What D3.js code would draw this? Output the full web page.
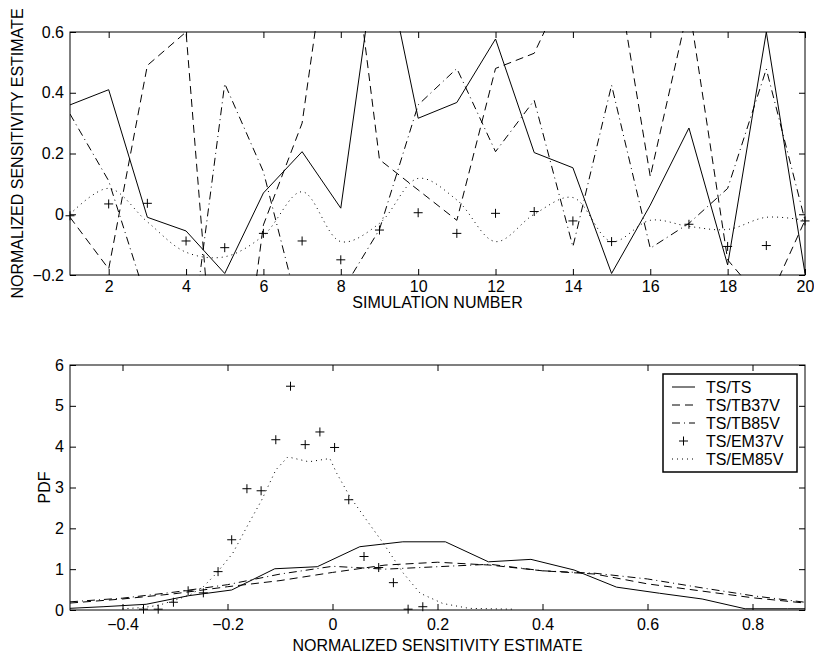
<!DOCTYPE html>
<html lang="en">
<head>
  <meta charset="UTF-8">
  <title>Normalized sensitivity estimates</title>
  <style>
    body {
      margin: 0;
      background: #fff;
    }

    svg {
      display: block;
      font-family: "Liberation Sans", Arial, Helvetica, sans-serif;
    }

    .tick text {
      font-size: 16px;
      fill: #000;
    }

    .tick line {
      stroke: #000;
    }

    .axis-title, .legend text {
      font-size: 16px;
      fill: #000;
    }

    .series {
      fill: none;
      stroke: #000;
      stroke-width: 1;
    }
  </style>
</head>
<body>
  <svg id="chart" width="814" height="658"></svg>

  <script src="https://d3js.org/d3.v7.min.js"></script>
  <script>
    // top panel: estimate per simulation
    const simNumber = [1, 2, 3, 4, 5, 6, 7, 8, 9, 10, 11, 12, 13, 14, 15, 16, 17, 18, 19, 20];
    const simTsTs    = [0.36, 0.41, -0.01, -0.055, -0.195, 0.07, 0.206, 0.02, 0.93, 0.316, 0.368, 0.577, 0.203, 0.153, -0.195, 0.03, 0.284, -0.167, 0.6, -0.195];
    const simTsTb37v = [-0.01, -0.18, 0.49, 0.6, -1.0, -0.035, 0.30, 1.2, 0.18, 0.08, -0.02, 0.48, 0.53, 0.8, 0.9, 0.124, 0.69, -0.15, -0.30, -0.02];
    const simTsTb85v = [0.33, 0.11, -0.29, -0.55, 0.43, 0.14, -0.36, -0.26, -0.05, 0.36, 0.48, 0.206, 0.375, -0.107, 0.425, -0.112, -0.03, 0.085, 0.478, -0.02];
    const simTsEm37v = [-0.005, 0.034, 0.036, -0.088, -0.11, -0.063, -0.088, -0.15, -0.052, 0.005, -0.063, 0.003, 0.009, -0.022, -0.09, -0.25, -0.033, -0.106, -0.103, -0.022];
    const simTsEm85v = [0.0, 0.085, -0.025, -0.125, -0.14, -0.07, 0.074, -0.09, -0.03, 0.118, 0.047, -0.09, 0.0, 0.055, -0.09, -0.02, -0.04, -0.05, -0.01, -0.02];

    // bottom panel: PDFs
    const pdfXTs = [-0.518, -0.437, -0.355, -0.274, -0.192, -0.110, -0.029, 0.052, 0.134, 0.215, 0.297, 0.378, 0.460, 0.541, 0.623, 0.704, 0.786, 0.867, 0.949];
    const pdfTs  = [0.03, 0.08, 0.14, 0.35, 0.49, 1.01, 1.06, 1.55, 1.67, 1.67, 1.18, 1.24, 0.98, 0.56, 0.41, 0.27, 0.03, 0.03, 0.03];

    const pdfXTb = [-0.5, -0.4, -0.3, -0.2, -0.1, 0.0, 0.1, 0.2, 0.3, 0.4, 0.5, 0.6, 0.7, 0.8, 0.9];
    const pdfTb37v = [0.17, 0.27, 0.40, 0.57, 0.72, 0.92, 1.10, 1.17, 1.10, 0.96, 0.88, 0.64, 0.47, 0.30, 0.17];
    const pdfTb85v = [0.20, 0.29, 0.44, 0.62, 0.88, 1.07, 1.00, 1.06, 1.12, 0.96, 0.90, 0.76, 0.55, 0.35, 0.19];

    const pdfXEm37v = [-0.360, -0.332, -0.303, -0.275, -0.246, -0.218, -0.192, -0.163, -0.136, -0.108, -0.080, -0.052, -0.024, 0.004, 0.031, 0.060, 0.088, 0.116, 0.144, 0.172];
    const pdfEm37v  = [0.02, 0.02, 0.19, 0.47, 0.42, 0.94, 1.72, 2.97, 2.92, 4.17, 5.48, 4.05, 4.36, 3.98, 2.70, 1.31, 1.04, 0.67, 0.02, 0.08];

    const pdfXEm85v = [-0.40, -0.36, -0.33, -0.30, -0.27, -0.246, -0.221, -0.19, -0.163, -0.135, -0.108, -0.085, -0.045, -0.005, 0.008, 0.033, 0.065, 0.097, 0.135, 0.167, 0.21, 0.26, 0.345];
    const pdfEm85v  = [0.03, 0.06, 0.12, 0.24, 0.38, 0.57, 0.90, 1.39, 2.04, 2.69, 3.43, 3.75, 3.63, 3.71, 3.35, 2.78, 2.20, 1.63, 0.90, 0.41, 0.16, 0.04, 0.02];

    // ticks
    const topXTicks = [2, 4, 6, 8, 10, 12, 14, 16, 18, 20];
    const topYTicks = [-0.2, 0, 0.2, 0.4, 0.6];
    const botXTicks = [-0.4, -0.2, 0, 0.2, 0.4, 0.6, 0.8];
    const botYTicks = [0, 1, 2, 3, 4, 5, 6];

    const legendNames = ["TS/TS", "TS/TB37V", "TS/TB85V", "TS/EM37V", "TS/EM85V"];
    const dashes = ["none", "8,5", "8,4,1,4", null, "1,4"];

    const svg = d3.select("#chart");
    svg.append("rect").attr("width", 814).attr("height", 658).attr("fill", "#fff");

    const fmtNum = d => d === 0 ? "0" : d3.format(".1f")(d);
    const plus = "M-4.5,0H4.5M0,-4.5V4.5";

    function drawAxes(g, x, y, xTicks, yTicks, fmtX, fmtY, xPad) {
      const [left, right] = x.range();
      const [bottom, top] = y.range();

      g.append("g").attr("transform", `translate(0,${bottom})`)
        .call(d3.axisBottom(x).tickValues(xTicks).tickFormat(fmtX).tickSizeInner(-6).tickSizeOuter(0).tickPadding(xPad));
      g.append("g").attr("transform", `translate(0,${top})`)
        .call(d3.axisTop(x).tickValues(xTicks).tickFormat("").tickSizeInner(-6).tickSizeOuter(0));
      g.append("g").attr("transform", `translate(${left},0)`)
        .call(d3.axisLeft(y).tickValues(yTicks).tickFormat(fmtY).tickSizeInner(-6).tickSizeOuter(0).tickPadding(6));
      g.append("g").attr("transform", `translate(${right},0)`)
        .call(d3.axisRight(y).tickValues(yTicks).tickFormat("").tickSizeInner(-6).tickSizeOuter(0));

      g.selectAll(".domain").remove();
      g.append("rect")
        .attr("x", left).attr("y", top)
        .attr("width", right - left).attr("height", bottom - top)
        .attr("fill", "none").attr("stroke", "#000").attr("stroke-width", 1);
    }

    function addClip(id, x, y) {
      const [left, right] = x.range();
      const [bottom, top] = y.range();
      svg.append("clipPath").attr("id", id)
        .append("rect")
        .attr("x", left).attr("y", top - 1)
        .attr("width", right - left).attr("height", bottom - top + 2);
    }

    function drawLine(g, xs, ys, x, y, dash, curve) {
      const line = d3.line()
        .x((d, i) => x(xs[i]))
        .y(d => y(d))
        .curve(curve || d3.curveLinear);
      g.append("path")
        .datum(ys)
        .attr("class", "series")
        .attr("d", line)
        .attr("stroke-dasharray", dash);
    }

    function drawPlus(g, xs, ys, x, y) {
      const [lo, hi] = y.domain();
      g.selectAll(null)
        .data(ys.map((v, i) => [xs[i], v]).filter(d => d[1] >= lo && d[1] <= hi))
        .enter()
        .append("path")
        .attr("d", plus)
        .attr("transform", d => `translate(${x(d[0])},${y(d[1])})`)
        .attr("stroke", "#000")
        .attr("stroke-width", 1)
        .attr("fill", "none");
    }

    // top panel
    function drawTop() {
      const x = d3.scaleLinear().domain([1, 20]).range([70, 805]);
      const y = d3.scaleLinear().domain([-0.2, 0.6]).range([275, 32]);
      const g = svg.append("g");

      addClip("clipTop", x, y);
      const lines = g.append("g").attr("clip-path", "url(#clipTop)");
      drawLine(lines, simNumber, simTsTs, x, y, dashes[0]);
      drawLine(lines, simNumber, simTsTb37v, x, y, dashes[1]);
      drawLine(lines, simNumber, simTsTb85v, x, y, dashes[2]);
      drawLine(lines, simNumber, simTsEm85v, x, y, dashes[4], d3.curveCatmullRom);
      drawPlus(g, simNumber, simTsEm37v, x, y);

      drawAxes(g, x, y, topXTicks, topYTicks, d3.format("d"), fmtNum, 6);

      g.append("text").attr("class", "axis-title")
        .attr("x", 437.5).attr("y", 308)
        .attr("text-anchor", "middle")
        .text("SIMULATION NUMBER");
      g.append("text").attr("class", "axis-title")
        .attr("transform", "translate(23,153.5) rotate(-90)")
        .attr("text-anchor", "middle")
        .text("NORMALIZED SENSITIVITY ESTIMATE");
    }

    // bottom panel
    function drawBottom() {
      const x = d3.scaleLinear().domain([-0.5, 0.9]).range([70, 805]);
      const y = d3.scaleLinear().domain([0, 6]).range([610, 365]);
      const g = svg.append("g");

      addClip("clipBot", x, y);
      const lines = g.append("g").attr("clip-path", "url(#clipBot)");
      drawLine(lines, pdfXTs, pdfTs, x, y, dashes[0]);
      drawLine(lines, pdfXTb, pdfTb37v, x, y, dashes[1]);
      drawLine(lines, pdfXTb, pdfTb85v, x, y, dashes[2]);
      drawLine(lines, pdfXEm85v, pdfEm85v, x, y, dashes[4]);
      drawPlus(g, pdfXEm37v, pdfEm37v, x, y);

      drawAxes(g, x, y, botXTicks, botYTicks, fmtNum, d3.format("d"), 9);

      g.append("text").attr("class", "axis-title")
        .attr("x", 437.5).attr("y", 651)
        .attr("text-anchor", "middle")
        .text("NORMALIZED SENSITIVITY ESTIMATE");
      g.append("text").attr("class", "axis-title")
        .attr("transform", "translate(50,487.5) rotate(-90)")
        .attr("text-anchor", "middle")
        .text("PDF");

      // legend
      const lg = g.append("g").attr("class", "legend");
      lg.append("rect")
        .attr("x", 663).attr("y", 374)
        .attr("width", 134).attr("height", 98)
        .attr("fill", "#fff").attr("stroke", "#000").attr("stroke-width", 1.5);

      const rowY = d3.scalePoint().domain(legendNames).range([387, 459]);
      legendNames.forEach((name, i) => {
        const cy = rowY(name);
        if (dashes[i] === null) {
          lg.append("path").attr("d", plus)
            .attr("transform", `translate(683.5,${cy})`)
            .attr("stroke", "#000").attr("fill", "none");
        } else {
          lg.append("line")
            .attr("x1", 672).attr("x2", 695)
            .attr("y1", cy).attr("y2", cy)
            .attr("stroke", "#000").attr("stroke-width", 1)
            .attr("stroke-dasharray", dashes[i]);
        }
        lg.append("text")
          .attr("x", 706).attr("y", cy + 5.8)
          .text(name);
      });
    }

    drawTop();
    drawBottom();
  </script>
</body>
</html>
